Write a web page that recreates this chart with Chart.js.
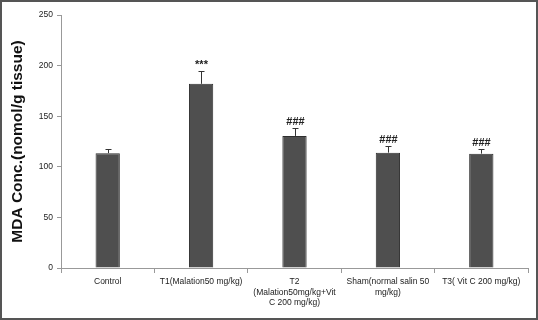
<!DOCTYPE html>
<html><head><meta charset="utf-8">
<script src="https://cdn.jsdelivr.net/npm/chart.js@4.4.1/dist/chart.umd.min.js"></script>
<style>html,body{margin:0;padding:0;background:#fff}#w{width:538px;height:320px;position:relative}</style>
</head><body><div id="w"><canvas id="c" width="538" height="320"></canvas></div>
<script>
const categories = ["Control", "T1(Malation50 mg/kg)", ["T2", "(Malation50mg/kg+Vit", "C 200 mg/kg)"], ["Sham(normal salin 50", "mg/kg)"], "T3( Vit C 200 mg/kg)"];
const mdaValues = [113.5, 182, 130.5, 114, 113];
const mdaErrors = [4, 13, 7.5, 6.5, 5];
const significance = ["", "***", "###", "###", "###"];
const yTicks = [0, 50, 100, 150, 200, 250];

const extras = {
  id: 'extras',
  afterDatasetsDraw(chart) {
    const ctx = chart.ctx, meta = chart.getDatasetMeta(0), ys = chart.scales.y;
    ctx.save();
    ctx.strokeStyle = '#333'; ctx.lineWidth = 1;
    meta.data.forEach((bar, i) => {
      const x = Math.round(bar.x) + 0.5;
      const yTop = ys.getPixelForValue(mdaValues[i]);
      const yErr = Math.round(ys.getPixelForValue(mdaValues[i] + mdaErrors[i])) + 0.5;
      ctx.beginPath(); ctx.moveTo(x, yTop); ctx.lineTo(x, yErr);
      ctx.moveTo(x - 3, yErr); ctx.lineTo(x + 3, yErr); ctx.stroke();
      if (significance[i]) {
        ctx.fillStyle = '#222';
        ctx.font = 'bold 11px "Liberation Sans", Arial, sans-serif';
        ctx.textAlign = 'center'; ctx.textBaseline = 'bottom';
        ctx.fillText(significance[i], x, yErr - 1);
      }
    });
    ctx.restore();
  },
  afterDraw(chart) {
    const ctx = chart.ctx;
    ctx.save(); ctx.strokeStyle = '#555'; ctx.lineWidth = 2;
    ctx.strokeRect(1, 1, 536, 318); ctx.restore();
  }
};

new Chart(document.getElementById('c'), {
  type: 'bar',
  data: { labels: categories, datasets: [{ data: mdaValues, backgroundColor: '#4f4f4f', borderColor: '#2e2e2e', borderWidth: 1, categoryPercentage: 1, barPercentage: 0.26 }] },
  options: {
    responsive: false, animation: false, devicePixelRatio: 1,
    layout: { padding: { top: 15, right: 10, bottom: 0, left: 0 } },
    plugins: { legend: { display: false }, tooltip: { enabled: false } },
    scales: {
      x: {
        grid: { offset: true, drawOnChartArea: false, tickLength: 5, color: '#999' },
        border: { color: '#999' },
        ticks: { color: '#222', font: { family: '"Liberation Sans", Arial, sans-serif', size: 8.5 }, maxRotation: 0, autoSkip: false, padding: 4 },
        afterFit(s) { s.height = 52; }
      },
      y: {
        min: 0, max: 250,
        afterBuildTicks(s) { s.ticks = yTicks.map(v => ({ value: v })); },
        grid: { drawOnChartArea: false, tickLength: 4, color: '#999' },
        border: { color: '#999' },
        ticks: { color: '#222', font: { family: '"Liberation Sans", Arial, sans-serif', size: 8.5 }, padding: 4 },
        title: { display: true, text: 'MDA Conc.(nomol/g tissue)', color: '#111', font: { family: '"Liberation Sans", Arial, sans-serif', size: 15.5, weight: 'bold' }, padding: { top: 8, bottom: 4 } },
        afterFit(s) { s.width = 61; }
      }
    }
  },
  plugins: [extras]
});
</script></body></html>
